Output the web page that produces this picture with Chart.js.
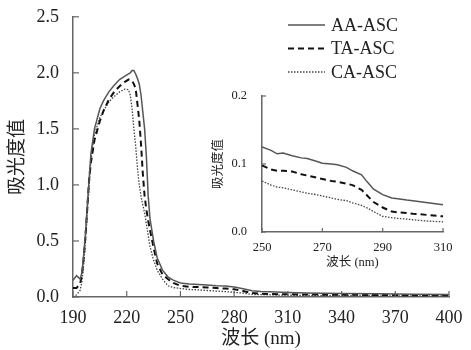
<!DOCTYPE html>
<html>
<head>
<meta charset="utf-8">
<script src="https://cdn.jsdelivr.net/npm/chart.js@4/dist/chart.umd.min.js"></script>
<style>
  body { margin: 0; background: #fff; }
  #wrap { position: relative; width: 471px; height: 350px; }
  #mainChart { position: absolute; left: 0; top: 0; }
  #insetChart { position: absolute; left: 200px; top: 80px; }
</style>
</head>
<body>
<div id="wrap">
  <canvas id="mainChart" width="471" height="350"></canvas>
  <canvas id="insetChart" width="260" height="200"></canvas>
</div>
<script>
// main spectrum, 190-400 nm
const mainWl = [190,192,194,195,196,197,198,199,200,202,205,207,210,213,216,219,221,222,223,224,225,226,227,228,229,230,231,232,233,235,237,240,243,246,250,255,260,265,270,275,280,285,290,295,300,310,320,340,360,380,400];
const aaMain = [0.15,0.19,0.16,0.22,0.38,0.58,0.82,1.05,1.28,1.5,1.68,1.75,1.83,1.89,1.94,1.97,1.99,2.0,2.02,2.02,1.99,1.95,1.9,1.8,1.65,1.5,1.25,0.9,0.7,0.5,0.35,0.24,0.18,0.15,0.125,0.115,0.112,0.108,0.101,0.099,0.089,0.073,0.055,0.049,0.046,0.041,0.036,0.031,0.028,0.025,0.022];
const taMain = [0.08,0.08,0.12,0.2,0.35,0.55,0.8,1.05,1.2,1.4,1.57,1.66,1.76,1.83,1.88,1.92,1.94,1.94,1.93,1.9,1.86,1.72,1.58,1.36,1.1,0.9,0.78,0.68,0.6,0.44,0.3,0.2,0.16,0.125,0.1,0.09,0.09,0.085,0.08,0.075,0.069,0.053,0.036,0.029,0.027,0.024,0.022,0.02,0.018,0.016,0.015];
const caMain = [0.0,0.02,0.06,0.14,0.3,0.5,0.75,0.98,1.22,1.45,1.6,1.66,1.74,1.79,1.83,1.855,1.85,1.8,1.68,1.5,1.35,1.15,1.0,0.9,0.82,0.75,0.65,0.55,0.45,0.33,0.24,0.16,0.1,0.085,0.076,0.067,0.064,0.058,0.053,0.048,0.042,0.034,0.023,0.021,0.019,0.016,0.014,0.012,0.011,0.01,0.01];

// inset zoom, 250-310 nm
const insetWl = [250,253,255,257,260,263,265,268,270,273,275,278,280,283,285,287,290,293,295,298,300,305,310];
const aaInset = [0.125,0.12,0.115,0.116,0.112,0.109,0.108,0.104,0.101,0.1,0.099,0.095,0.09,0.084,0.073,0.063,0.055,0.05,0.049,0.047,0.046,0.043,0.04];
const taInset = [0.098,0.092,0.09,0.09,0.089,0.085,0.083,0.08,0.078,0.075,0.074,0.071,0.069,0.062,0.053,0.044,0.036,0.03,0.029,0.028,0.027,0.025,0.023];
const caInset = [0.075,0.069,0.066,0.065,0.062,0.059,0.057,0.055,0.053,0.05,0.048,0.046,0.043,0.039,0.035,0.03,0.023,0.021,0.02,0.019,0.018,0.016,0.015];

const seriesNames = ["AA-ASC", "TA-ASC", "CA-ASC"];
const mainXTicks = [190,220,250,280,310,340,370,400];
const mainYTicks = [0,0.5,1.0,1.5,2.0,2.5];
const insetXTicks = [250,270,290,310];
const insetYTicks = [0,0.1,0.2];

const serif = "'Liberation Serif', 'Times New Roman', serif";
const cjk = "'Liberation Serif', 'Noto Sans CJK SC', serif";
const axisColor = "#666";

const styles = [
    { borderColor: "#555", borderWidth: 1.5, borderDash: [] },
    { borderColor: "#111", borderWidth: 2, borderDash: [6, 4] },
    { borderColor: "#444", borderWidth: 1.3, borderDash: [1.5, 1.5] }
];

function makeSets(xs, lists) {
    return lists.map((ys, i) => ({
        label: seriesNames[i],
        data: xs.map((x, j) => ({ x: x, y: ys[j] })),
        borderColor: styles[i].borderColor,
        borderWidth: styles[i].borderWidth,
        borderDash: styles[i].borderDash,
        pointRadius: 0,
        fill: false,
        tension: 0
    }));
}

// small ticks pointing into the plot
const inwardTicks = {
    id: "inwardTicks",
    afterDraw(chart, args, opts) {
        const ctx = chart.ctx;
        const area = chart.chartArea;
        const len = opts.len || 5;
        ctx.save();
        ctx.strokeStyle = axisColor;
        ctx.lineWidth = 1.2;
        chart.scales.x.ticks.forEach(t => {
            const px = chart.scales.x.getPixelForValue(t.value);
            ctx.beginPath();
            ctx.moveTo(px, area.bottom);
            ctx.lineTo(px, area.bottom - len);
            ctx.stroke();
        });
        chart.scales.y.ticks.forEach(t => {
            const py = chart.scales.y.getPixelForValue(t.value);
            ctx.beginPath();
            ctx.moveTo(area.left, py);
            ctx.lineTo(area.left + len, py);
            ctx.stroke();
        });
        ctx.restore();
    }
};

const lineLegend = {
    id: "lineLegend",
    afterDraw(chart) {
        const ctx = chart.ctx;
        ctx.save();
        ctx.font = "18px " + serif;
        ctx.textBaseline = "middle";
        chart.data.datasets.forEach((ds, i) => {
            const y = 25 + i * 23.5;
            ctx.strokeStyle = ds.borderColor;
            ctx.lineWidth = ds.borderWidth;
            ctx.setLineDash(ds.borderDash);
            ctx.beginPath();
            ctx.moveTo(288, y);
            ctx.lineTo(325, y);
            ctx.stroke();
            ctx.setLineDash([]);
            ctx.fillStyle = "#222";
            ctx.fillText(ds.label, 331, y + 1);
        });
        ctx.restore();
    }
};

function buildOptions(cfg) {
    return {
        responsive: false,
        animation: false,
        devicePixelRatio: 1,
        layout: { padding: cfg.padding },
        plugins: { legend: { display: false }, tooltip: { enabled: false }, inwardTicks: { len: cfg.tickLen } },
        scales: {
            x: {
                type: "linear",
                min: cfg.xTicks[0],
                max: cfg.xTicks[cfg.xTicks.length - 1],
                afterBuildTicks: s => { s.ticks = cfg.xTicks.map(v => ({ value: v })); },
                afterFit: s => { s.height = cfg.xHeight; },
                grid: { display: false },
                border: { display: true, color: axisColor, width: 1.5 },
                ticks: { color: "#222", font: { family: serif, size: cfg.tickSize }, padding: cfg.xPad, maxRotation: 0, autoSkip: false },
                title: { display: true, text: "波长 (nm)", color: "#222", font: { family: cjk, size: cfg.titleSize }, padding: { top: cfg.titlePad, bottom: 0 } }
            },
            y: {
                min: 0,
                max: cfg.yTicks[cfg.yTicks.length - 1],
                afterBuildTicks: s => { s.ticks = cfg.yTicks.map(v => ({ value: v })); },
                afterFit: s => { s.width = cfg.yWidth; },
                grid: { display: false },
                border: { display: true, color: axisColor, width: 1.5 },
                ticks: { color: "#222", font: { family: serif, size: cfg.tickSize }, padding: cfg.yPad, callback: v => v.toFixed(1) },
                title: { display: true, text: "吸光度值", color: "#222", font: { family: cjk, size: cfg.titleSize }, padding: { top: cfg.yTitleLeft, bottom: 0 } }
            }
        }
    };
}

new Chart(document.getElementById("mainChart"), {
    type: "line",
    data: { datasets: makeSets(mainWl, [aaMain, taMain, caMain]) },
    options: buildOptions({
        padding: { left: 0, top: 16, right: 22, bottom: 0 },
        xTicks: mainXTicks, yTicks: mainYTicks,
        xHeight: 53, yWidth: 73, tickSize: 18, titleSize: 19,
        xPad: 2, yPad: 6, titlePad: 2, yTitleLeft: 7, tickLen: 6
    }),
    plugins: [inwardTicks, lineLegend]
});

new Chart(document.getElementById("insetChart"), {
    type: "line",
    data: { datasets: makeSets(insetWl, [aaInset, taInset, caInset]) },
    options: buildOptions({
        padding: { left: 0, top: 16, right: 17, bottom: 10 },
        xTicks: insetXTicks, yTicks: insetYTicks,
        xHeight: 38, yWidth: 62, tickSize: 12.5, titleSize: 12.5,
        xPad: 0, yPad: 7, titlePad: 0, yTitleLeft: 11, tickLen: 4
    }),
    plugins: [inwardTicks]
});
</script>
</body>
</html>
